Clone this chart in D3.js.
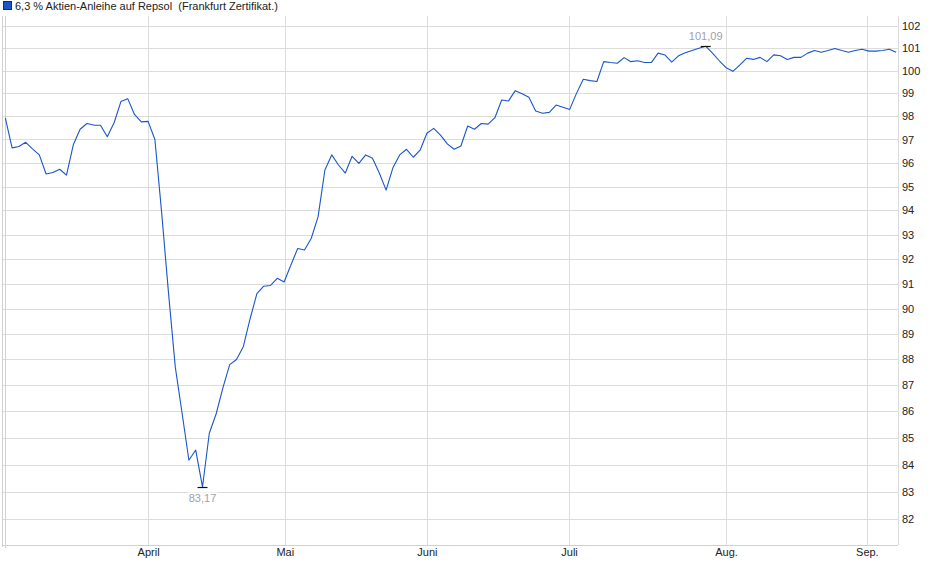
<!DOCTYPE html>
<html>
<head>
<meta charset="utf-8">
<script src="https://cdn.jsdelivr.net/npm/d3@7"></script>
<style>
  body { margin: 0; background: #fff; }
  svg { display: block; font-family: "Liberation Sans", Arial, sans-serif; }
</style>
</head>
<body>
<div id="chart"></div>
<script>
const SVG = d3.select("#chart").append("svg");

const WIDTH = 940;
const HEIGHT = 579;

SVG.attr("width", WIDTH).attr("height", HEIGHT);

// Daten (Handelstage, Frankfurt)
const TITLE = "6,3 % Aktien-Anleihe auf Repsol  (Frankfurt Zertifikat.)";

const prices = [
  97.93, 96.64, 96.70, 96.88, 96.60, 96.34, 95.53, 95.59, 95.73, 95.48,
  96.77, 97.44, 97.69, 97.62, 97.61, 97.12, 97.72, 98.64, 98.77, 98.08,
  97.76, 97.78, 97.00, 93.89, 90.63, 87.70, 85.93, 84.16, 84.54, 83.17,
  85.17, 85.90, 86.90, 87.80, 88.00, 88.50, 89.60, 90.60, 90.90, 90.93,
  91.22, 91.07, 91.76, 92.43, 92.37, 92.85, 93.74, 95.70, 96.34, 95.91,
  95.57, 96.28, 95.98, 96.34, 96.20, 95.57, 94.85, 95.79, 96.34, 96.58,
  96.24, 96.54, 97.27, 97.48, 97.19, 96.81, 96.58, 96.72, 97.58, 97.44,
  97.69, 97.66, 97.94, 98.71, 98.67, 99.12, 98.98, 98.83, 98.23, 98.13,
  98.17, 98.49, 98.39, 98.30, 99.00, 99.62, 99.56, 99.52, 100.40, 100.36,
  100.33, 100.58, 100.40, 100.44, 100.36, 100.36, 100.78, 100.70, 100.38, 100.66,
  100.80, 100.90, 101.00, 101.09, 100.78, 100.44, 100.13, 99.97, 100.25, 100.55,
  100.50, 100.59, 100.40, 100.70, 100.66, 100.50, 100.59, 100.59, 100.78, 100.90,
  100.82, 100.90, 100.99, 100.90, 100.82, 100.90, 100.95, 100.87, 100.87, 100.90,
  100.95, 100.82
];

const monthLabels = ["April", "Mai", "Juni", "Juli", "Aug.", "Sep."];
// Position des Monatsanfangs in Handelstagen
const monthPos = [21, 41.1, 62, 82.9, 106, 126.7];

const yTicks = d3.range(82, 103);

// Plotbereich
const LEFT = 5.3;
const RIGHT = 898;
const TOP = 16;
const BOTTOM = 545;

const x = d3.scaleLinear()
    .domain([0, prices.length - 1])
    .range([LEFT, 896.1]);

const y = d3.scaleLog()
    .domain([81.06, 102.45])
    .range([BOTTOM, TOP]);

const fmt = v => d3.format(".2f")(v).replace(".", ",");

function drawGrid() {
    const grid = SVG.append("g").attr("shape-rendering", "crispEdges");

    grid.selectAll(".hgrid")
        .data(yTicks)
        .join("line")
        .attr("x1", 3)
        .attr("x2", RIGHT)
        .attr("y1", d => Math.round(y(d)) + 0.5)
        .attr("y2", d => Math.round(y(d)) + 0.5)
        .attr("stroke", "#dcdcdc");

    grid.selectAll(".vgrid")
        .data(monthPos)
        .join("line")
        .attr("x1", d => Math.round(x(d)) + 0.5)
        .attr("x2", d => Math.round(x(d)) + 0.5)
        .attr("y1", TOP)
        .attr("y2", BOTTOM)
        .attr("stroke", "#dcdcdc");

    // Rahmen
    grid.append("line")
        .attr("x1", RIGHT + 0.5).attr("x2", RIGHT + 0.5)
        .attr("y1", TOP).attr("y2", BOTTOM)
        .attr("stroke", "#dcdcdc");
    grid.append("line")
        .attr("x1", 3).attr("x2", RIGHT)
        .attr("y1", BOTTOM + 0.5).attr("y2", BOTTOM + 0.5)
        .attr("stroke", "#d0d0d0");
    grid.append("line")
        .attr("x1", 2.5).attr("x2", 2.5)
        .attr("y1", TOP).attr("y2", BOTTOM + 2)
        .attr("stroke", "#d0d0d0");
    grid.append("line")
        .attr("x1", 5.5).attr("x2", 5.5)
        .attr("y1", TOP).attr("y2", BOTTOM + 3)
        .attr("stroke", "#d0d0d0");
}

function drawAxes() {
    const yAxis = d3.axisRight(y)
        .tickValues(yTicks)
        .tickFormat(d3.format("d"))
        .tickSize(0)
        .tickPadding(0);

    const gy = SVG.append("g")
        .attr("transform", `translate(902,0)`)
        .call(yAxis);
    gy.select(".domain").remove();
    gy.selectAll("text")
        .attr("font-size", 11)
        .attr("font-family", "Liberation Sans, Arial, sans-serif")
        .attr("fill", "#222");

    const xAxis = d3.axisBottom(x)
        .tickValues(monthPos)
        .tickFormat((d, i) => monthLabels[i])
        .tickSize(0)
        .tickPadding(0);

    const gx = SVG.append("g")
        .attr("transform", `translate(0,${BOTTOM + 3})`)
        .call(xAxis);
    gx.select(".domain").remove();
    gx.selectAll("text")
        .attr("font-size", 11)
        .attr("font-family", "Liberation Sans, Arial, sans-serif")
        .attr("fill", "#222");
}

function drawLine() {
    const line = d3.line()
        .x((d, i) => x(i))
        .y(d => y(d));

    SVG.append("path")
        .datum(prices)
        .attr("d", line)
        .attr("fill", "none")
        .attr("stroke", "#1a56c8")
        .attr("stroke-width", 1.1)
        .attr("stroke-linejoin", "round");
}

function drawExtrema() {
    const iMax = d3.maxIndex(prices);
    const iMin = d3.minIndex(prices);

    const marks = [
        { i: iMax, v: prices[iMax], dy: -9 },
        { i: iMin, v: prices[iMin], dy: 12 }
    ];

    marks.forEach(m => {
        const px = x(m.i);
        const py = Math.round(y(m.v)) + 0.5;

        SVG.append("line")
            .attr("x1", px - 5).attr("x2", px + 5)
            .attr("y1", py).attr("y2", py)
            .attr("stroke", "#111")
            .attr("stroke-width", 1.2);

        const t = SVG.append("text")
            .attr("x", px)
            .attr("y", py + m.dy)
            .attr("text-anchor", "middle")
            .attr("dominant-baseline", "middle")
            .attr("font-size", 11)
            .attr("fill", "#9da0ad")
            .text(fmt(m.v));

        const bb = t.node().getBBox();
        SVG.insert("rect", "text:last-of-type")
            .attr("x", bb.x - 1)
            .attr("y", bb.y)
            .attr("width", bb.width + 2)
            .attr("height", bb.height)
            .attr("fill", "#fff");
        t.raise();
    });
}

function drawTitle() {
    SVG.append("rect")
        .attr("x", 3.5).attr("y", 1.5)
        .attr("width", 8).attr("height", 8)
        .attr("fill", "#1a56c8")
        .attr("stroke", "#1b2f5e");

    SVG.append("text")
        .attr("x", 15)
        .attr("y", 10)
        .attr("font-size", 11)
        .attr("fill", "#222")
        .style("white-space", "pre")
        .text(TITLE);
}

document.addEventListener('DOMContentLoaded', function() {
    drawGrid();
    drawLine();
    drawExtrema();
    drawAxes();
    drawTitle();
});
</script>
</body>
</html>
